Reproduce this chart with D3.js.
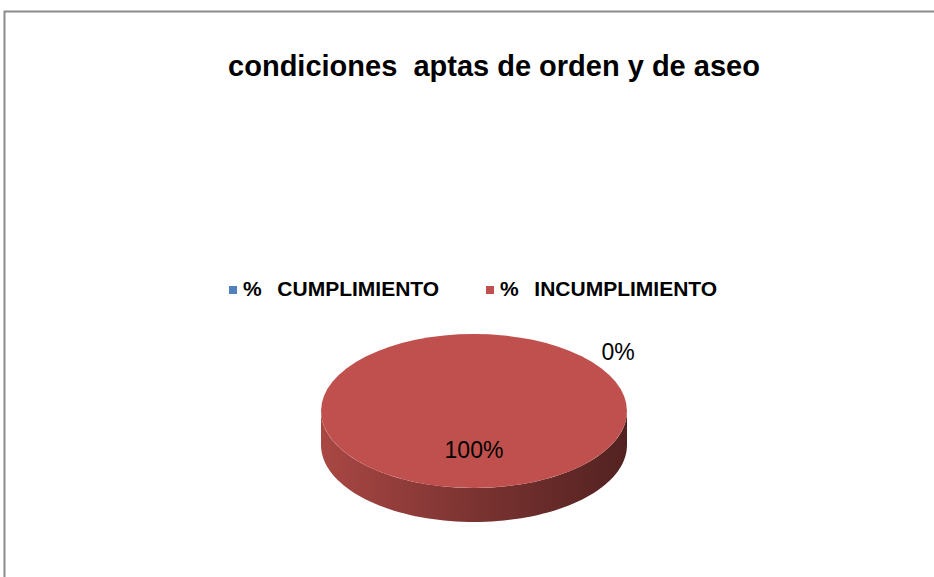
<!DOCTYPE html>
<html><head><meta charset="utf-8">
<script src="https://cdn.jsdelivr.net/npm/d3@7"></script>
<style>body{margin:0;background:#fff}svg{display:block}text{white-space:pre}</style>
</head><body>
<svg id="c" width="934" height="577"></svg>
<script>
const categories = ["%  CUMPLIMIENTO", "%  INCUMPLIMIENTO"];
const values = [0, 100];
const labels = ["0%", "100%"];
const colors = ["#4F81BD", "#C0504D"];
const title = "condiciones  aptas de orden y de aseo";

const svg = d3.select("#c");
svg.append("rect").attr("x",4.5).attr("y",11.5).attr("width",940).attr("height",580)
  .attr("fill","#fff").attr("stroke","#8c8c8c").attr("stroke-width",2);

svg.append("text").attr("x",494).attr("y",76).attr("text-anchor","middle")
  .attr("font-family","Liberation Sans, Arial, sans-serif").attr("font-weight","bold")
  .attr("font-size",29).attr("fill","#000").text(title);

// legend
const legX = [229, 486];
categories.forEach((c,i)=>{
  svg.append("rect").attr("x",legX[i]).attr("y",286).attr("width",8).attr("height",8).attr("fill",colors[i]);
  svg.append("text").attr("x",legX[i]+14).attr("y",296)
    .attr("font-family","Liberation Sans, Arial, sans-serif").attr("font-weight","bold")
    .attr("word-spacing",2).attr("font-size",21).attr("fill","#000").text(c);
});

// 3D pie
const cx = 474, cy = 411, rx = 153, ry = 77, depth = 34;
const pie = d3.pie().sort(null).value(d=>d)(values);
const defs = svg.append("defs");
const grads = colors.map((col,i)=>{
  const g = defs.append("linearGradient").attr("id","g"+i).attr("x1","0").attr("x2","1").attr("y1","0").attr("y2","0");
  const c = d3.color(col);
  g.append("stop").attr("offset","0").attr("stop-color",c.darker(0.35));
  g.append("stop").attr("offset","0.5").attr("stop-color",c.darker(1.25));
  g.append("stop").attr("offset","1").attr("stop-color",c.darker(2.4));
  return "url(#g"+i+")";
});
const pt = (a, dy=0) => [cx + rx*Math.sin(a), cy - ry*Math.cos(a) + dy];

// side walls (front half)
pie.forEach((d,i)=>{
  if (d.endAngle - d.startAngle <= 0) return;
  const a0 = Math.max(d.startAngle, Math.PI/2), a1 = Math.min(d.endAngle, 3*Math.PI/2);
  if (a1 <= a0) return;
  const n = 80, top = [], bot = [];
  for (let k=0;k<=n;k++){ const a = a0+(a1-a0)*k/n; top.push(pt(a)); bot.push(pt(a,depth)); }
  const pts = top.concat(bot.reverse());
  svg.append("path").attr("d", d3.line()(pts)+"Z").attr("fill", grads[i]);
});

// top faces
const arc = d3.arc().innerRadius(0).outerRadius(rx);
pie.forEach((d,i)=>{
  if (d.endAngle - d.startAngle <= 0) return;
  svg.append("path").attr("d", arc(d))
    .attr("transform",`translate(${cx},${cy}) scale(1,${ry/rx})`)
    .attr("fill", colors[i]);
});

// labels
const labelPos = pie.map(d=>{
  const span = d.endAngle - d.startAngle;
  if (span <= 0) { const a = d.startAngle + 0.96; return [cx + rx*1.15*Math.sin(a), cy - ry*1.3*Math.cos(a)]; }
  if (span >= 2*Math.PI - 1e-6) return [cx, cy + 41];
  const c = arc.centroid(d); return [cx + c[0], cy + c[1]*ry/rx];
});
labels.forEach((l,i)=>{
  svg.append("text").attr("x",labelPos[i][0]).attr("y",labelPos[i][1]).attr("text-anchor","middle")
    .attr("dominant-baseline","middle")
    .attr("font-family","Liberation Sans, Arial, sans-serif").attr("font-size",23).attr("fill","#000").text(l);
});
</script>
</body></html>
